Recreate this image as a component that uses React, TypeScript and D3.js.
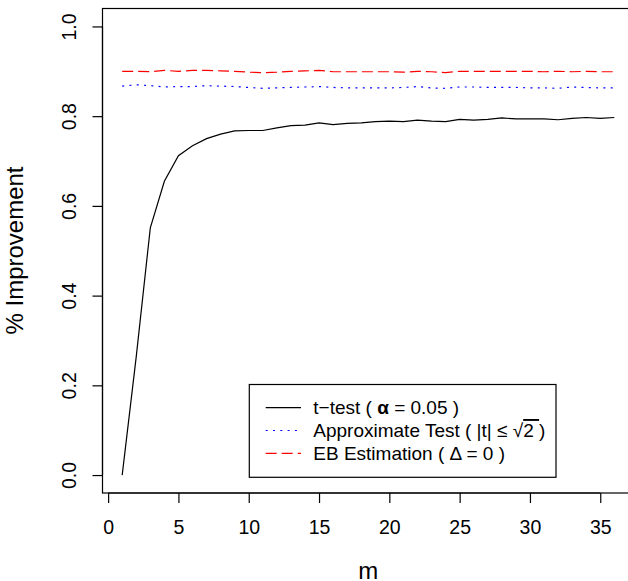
import React, { useEffect, useRef } from 'react';
import * as d3 from 'd3';

// m = 1..36
const mValues = d3.range(1, 37);

const tTest = [
  0.0, 0.264, 0.551, 0.655, 0.712, 0.734, 0.75, 0.76, 0.767, 0.768,
  0.768, 0.774, 0.779, 0.78, 0.785, 0.781, 0.784, 0.785, 0.788, 0.789,
  0.788, 0.791, 0.789, 0.788, 0.793, 0.791, 0.793, 0.796, 0.794, 0.794,
  0.794, 0.792, 0.795, 0.797, 0.795, 0.797
];

const approxTest = [
  0.867, 0.87, 0.868, 0.865, 0.866, 0.866, 0.868, 0.867, 0.866, 0.864,
  0.862, 0.863, 0.864, 0.865, 0.866, 0.864, 0.863, 0.863, 0.863, 0.863,
  0.864, 0.866, 0.863, 0.862, 0.865, 0.865, 0.864, 0.864, 0.864, 0.863,
  0.863, 0.862, 0.865, 0.864, 0.863, 0.863
];

const ebEstimation = [
  0.9, 0.9, 0.899, 0.902, 0.9, 0.902, 0.902, 0.901, 0.9, 0.898,
  0.897, 0.898, 0.9, 0.901, 0.902, 0.899, 0.899, 0.899, 0.899, 0.899,
  0.898, 0.9, 0.899, 0.897, 0.9, 0.9, 0.9, 0.9, 0.9, 0.9,
  0.899, 0.9, 0.899, 0.9, 0.899, 0.899
];

const xTicks = [0, 5, 10, 15, 20, 25, 30, 35];
const yTicks = [0, 0.2, 0.4, 0.6, 0.8, 1.0];

const FONT = '"Liberation Sans", Arial, Helvetica, sans-serif';
const TICK_FS = 19.5;
const LAB_FS = 24;
const LEG_FS = 19;

export default function App() {
  const svgRef = useRef<SVGSVGElement>(null);

  useEffect(() => {
    const svg = d3.select(svgRef.current);
    svg.selectAll('*').remove();

    const x = d3.scaleLinear().domain([-0.4, 37.4]).range([102.5, 634]);
    const y = d3.scaleLinear().domain([-0.04, 1.04]).range([493, 8.5]);

    const series = [
      { name: 't', values: tTest, color: '#000000', dash: null },
      { name: 'approx', values: approxTest, color: '#0000ff', dash: '2,5.3' },
      { name: 'eb', values: ebEstimation, color: '#ff0000', dash: '11,5' }
    ];

    const line = d3.line<number>()
      .x((d, i) => x(mValues[i]))
      .y(d => y(d));

    series.forEach(s => {
      svg.append('path')
        .attr('d', line(s.values))
        .attr('fill', 'none')
        .attr('stroke', s.color)
        .attr('stroke-width', 1.2)
        .attr('stroke-dasharray', s.dash);
    });

    // box (right edge falls off the page)
    svg.append('rect')
      .attr('x', 102.5)
      .attr('y', 8.5)
      .attr('width', 634 - 102.5)
      .attr('height', 493 - 8.5)
      .attr('fill', 'none')
      .attr('stroke', '#000')
      .attr('stroke-width', 1.2);

    // x axis
    const xAxis = d3.axisBottom(x).tickValues(xTicks).tickSize(10).tickPadding(17.5)
      .tickFormat(d3.format('d'));
    const gx = svg.append('g').attr('transform', 'translate(0,493)').call(xAxis);
    gx.select('.domain').remove();
    gx.append('line')
      .attr('x1', x(0)).attr('x2', x(35))
      .attr('stroke', '#000').attr('stroke-width', 1.2);
    gx.selectAll('line').attr('stroke-width', 1.2);
    gx.selectAll('text')
      .attr('font-family', FONT)
      .attr('font-size', TICK_FS)
      .attr('fill', '#000');

    // y axis
    const yAxis = d3.axisLeft(y).tickValues(yTicks).tickSize(10).tickFormat(d3.format('.1f'));
    const gy = svg.append('g').attr('transform', 'translate(102.5,0)').call(yAxis);
    gy.select('.domain').remove();
    gy.append('line')
      .attr('y1', y(0)).attr('y2', y(1))
      .attr('stroke', '#000').attr('stroke-width', 1.2);
    gy.selectAll('line').attr('stroke-width', 1.2);
    gy.selectAll('text')
      .attr('x', null)
      .attr('dy', null)
      .attr('transform', 'translate(-27,0) rotate(-90)')
      .attr('text-anchor', 'middle')
      .attr('font-family', FONT)
      .attr('font-size', TICK_FS)
      .attr('fill', '#000');

    // axis titles
    svg.append('text')
      .attr('x', 368.3)
      .attr('y', 578.5)
      .attr('text-anchor', 'middle')
      .attr('font-family', FONT)
      .attr('font-size', LAB_FS)
      .text('m');

    svg.append('text')
      .attr('transform', 'translate(23,250.5) rotate(-90)')
      .attr('text-anchor', 'middle')
      .attr('font-family', FONT)
      .attr('font-size', LAB_FS)
      .text('% Improvement');

    // legend
    const legend = svg.append('g');
    legend.append('rect')
      .attr('x', 249.3).attr('y', 384.5)
      .attr('width', 556 - 249.3).attr('height', 477.3 - 384.5)
      .attr('fill', '#fff').attr('stroke', '#000').attr('stroke-width', 1.2);

    const rowY = [407.7, 430.5, 453.3];
    series.forEach((s, i) => {
      legend.append('line')
        .attr('x1', 265.7).attr('x2', 301)
        .attr('y1', rowY[i]).attr('y2', rowY[i])
        .attr('stroke', s.color)
        .attr('stroke-width', 1.2)
        .attr('stroke-dasharray', s.dash);
    });

    const t0 = legend.append('text')
      .attr('x', 313.3).attr('y', rowY[0] + 6.5)
      .attr('font-family', FONT).attr('font-size', LEG_FS);
    t0.append('tspan').text('t\u2212test ( ');
    t0.append('tspan').attr('font-weight', 'bold').text('\u03b1');
    t0.append('tspan').text(' = 0.05 )');

    const t1 = legend.append('text')
      .attr('x', 313.3).attr('y', rowY[1] + 6.5)
      .attr('font-family', FONT).attr('font-size', LEG_FS);
    t1.append('tspan').text('Approximate Test ( |t| \u2264 \u221a');
    t1.append('tspan').style('text-decoration', 'overline').text('2 ');
    t1.append('tspan').text(')');

    const t2 = legend.append('text')
      .attr('x', 313.3).attr('y', rowY[2] + 6.5)
      .attr('font-family', FONT).attr('font-size', LEG_FS);
    t2.append('tspan').text('EB Estimation ( ');
    t2.append('tspan').text('\u0394');
    t2.append('tspan').text(' = 0 )');
  }, []);

  return (
    <div style={{ position: 'fixed', left: 0, top: 0 }}>
      <svg ref={svgRef} width={628} height={581} style={{ display: 'block', background: '#fff' }} />
    </div>
  );
}
